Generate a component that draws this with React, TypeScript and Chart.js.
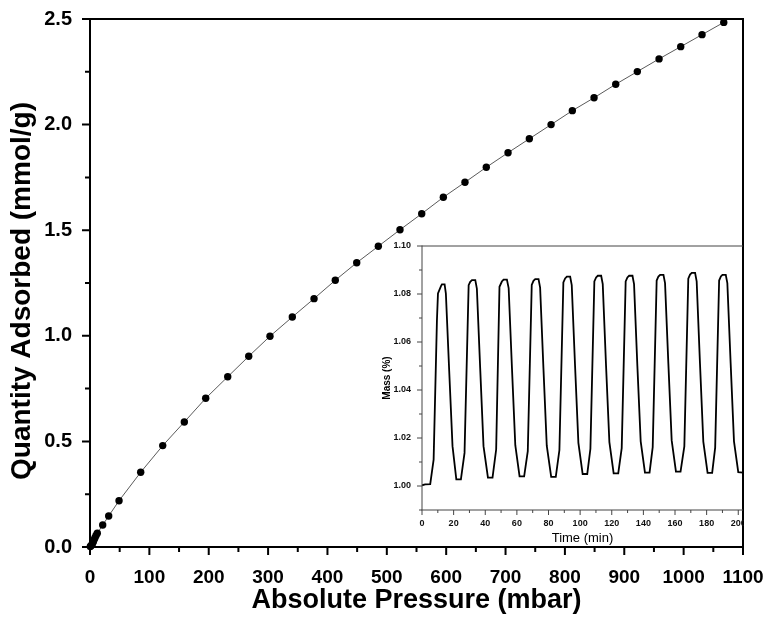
import React, { useEffect, useRef } from 'react';
import { Chart, registerables } from 'chart.js';

Chart.register(...registerables);

const FONT = "Arial, 'Liberation Sans', Helvetica, sans-serif";

// Main isotherm: absolute pressure (mbar) vs quantity adsorbed (mmol/g)
const pressure = [
  0.5, 1.5, 2.9, 4.2, 5.6, 7.0, 8.4, 10.2, 12.3, 21.4, 31.5, 48.9, 85.4, 122.5, 158.9,
  194.9, 232.0, 267.4, 303.2, 340.8, 377.4, 413.2, 449.3, 485.7, 522.2, 558.8, 595.2,
  631.7, 667.6, 704.2, 740.1, 776.7, 812.5, 849.1, 885.6, 922.0, 958.6, 995.1, 1031.0, 1067.6,
];
const quantity = [
  0.002, 0.006, 0.009, 0.017, 0.025, 0.035, 0.044, 0.055, 0.065, 0.104, 0.147, 0.219, 0.354, 0.48, 0.592,
  0.704, 0.806, 0.903, 0.998, 1.089, 1.176, 1.263, 1.346, 1.424, 1.502, 1.578, 1.656,
  1.727, 1.798, 1.867, 1.933, 2.0, 2.066, 2.127, 2.191, 2.251, 2.311, 2.369, 2.426, 2.484,
];
const pressureTicks = [0, 100, 200, 300, 400, 500, 600, 700, 800, 900, 1000, 1100];
const quantityTicks = [0, 0.5, 1.0, 1.5, 2.0, 2.5];
const yTitle = 'Quantity Adsorbed (mmol/g)';

// Inset: cycling test, time (min) vs mass (%)
const time = [
  0, 2.0, 5.2,
  7.35, 9.45, 10.1, 12.0, 12.6, 14.3, 15.1, 17.2, 19.3, 21.7, 24.6,
  26.9, 29.5, 30.5, 31.6, 33.7, 34.7, 36.8, 38.9, 41.7, 44.6,
  46.9, 49.0, 50.5, 51.6, 53.7, 54.8, 56.9, 59.0, 61.7, 64.6,
  66.9, 69.4, 70.5, 71.6, 73.7, 74.7, 76.8, 78.9, 81.7, 84.6,
  86.9, 89.4, 90.5, 91.6, 93.7, 94.7, 96.8, 98.9, 101.6, 104.5,
  106.5, 109.0, 110.1, 111.2, 113.3, 114.3, 116.4, 118.5, 121.2, 124.1,
  126.3, 128.8, 129.9, 131.0, 133.1, 134.1, 136.2, 138.3, 141.0, 143.9,
  145.9, 148.4, 149.5, 150.6, 152.7, 153.7, 155.8, 157.9, 160.6, 163.5,
  165.9, 168.4, 169.5, 170.6, 172.7, 173.7, 175.8, 177.9, 180.6, 183.5,
  185.4, 187.9, 189.0, 190.0, 192.1, 193.1, 195.2, 197.3, 200.0, 203.0,
];
const mass = [
  1.0003, 1.0007, 1.0008,
  1.011, 1.0692, 1.0802, 1.0833, 1.084, 1.084, 1.0802, 1.048, 1.0166, 1.0028, 1.0028,
  1.0138, 1.0837, 1.0851, 1.0858, 1.0858, 1.0823, 1.049, 1.0166, 1.0035, 1.0035,
  1.0152, 1.083, 1.0852, 1.086, 1.086, 1.0825, 1.049, 1.017, 1.004, 1.004,
  1.0145, 1.0838, 1.0855, 1.0862, 1.0862, 1.0827, 1.049, 1.0168, 1.0038, 1.0038,
  1.015, 1.0848, 1.0865, 1.0872, 1.0872, 1.0837, 1.05, 1.018, 1.005, 1.005,
  1.0155, 1.0852, 1.0869, 1.0876, 1.0876, 1.0841, 1.05, 1.0183, 1.0053, 1.0053,
  1.0158, 1.0852, 1.0869, 1.0876, 1.0876, 1.0841, 1.05, 1.0186, 1.0056, 1.0056,
  1.0162, 1.0856, 1.0873, 1.088, 1.088, 1.0845, 1.051, 1.019, 1.006, 1.006,
  1.0165, 1.0864, 1.0881, 1.0888, 1.0888, 1.0853, 1.051, 1.0185, 1.0055, 1.0055,
  1.016, 1.0856, 1.0873, 1.088, 1.088, 1.0845, 1.051, 1.0186, 1.0058, 1.0056,
];
const timeTicks = [0, 20, 40, 60, 80, 100, 120, 140, 160, 180, 200];
const massTicks = [1.0, 1.02, 1.04, 1.06, 1.08, 1.1];

function midpoints(a: number[]): number[] {
  const out: number[] = [];
  for (let i = 0; i < a.length - 1; i++) out.push((a[i] + a[i + 1]) / 2);
  return out;
}

type DecorOpts = {
  xMajor: number[];
  xMinor: number[];
  yMajor: number[];
  yMinor: number[];
  majorLen: number;
  minorLen: number;
  lineWidth: number;
  color: string;
  sides: { top: boolean; right: boolean };
  yTitle?: { text: string; font: string; x: number; yOffset: number };
};

function decor(o: DecorOpts) {
  return {
    id: 'decor',
    afterDraw(chart: any) {
      const { ctx, chartArea } = chart;
      const xs = chart.scales.x;
      const ys = chart.scales.y;
      const { left, right, top, bottom } = chartArea;
      ctx.save();
      ctx.strokeStyle = o.color;
      ctx.lineWidth = o.lineWidth;
      ctx.lineCap = 'butt';
      ctx.beginPath();
      ctx.moveTo(left, top - (o.sides.top ? o.lineWidth / 2 : 0));
      ctx.lineTo(left, bottom);
      ctx.moveTo(left - o.lineWidth / 2, bottom);
      ctx.lineTo(right + (o.sides.right ? o.lineWidth / 2 : 0), bottom);
      if (o.sides.top) {
        ctx.moveTo(left, top);
        ctx.lineTo(right + (o.sides.right ? o.lineWidth / 2 : 0), top);
      }
      if (o.sides.right) {
        ctx.moveTo(right, top);
        ctx.lineTo(right, bottom);
      }
      const xt = (v: number, len: number) => {
        const p = xs.getPixelForValue(v);
        ctx.moveTo(p, bottom);
        ctx.lineTo(p, bottom + len);
      };
      const yt = (v: number, len: number) => {
        const p = ys.getPixelForValue(v);
        ctx.moveTo(left, p);
        ctx.lineTo(left - len, p);
      };
      o.xMajor.forEach((v) => xt(v, o.majorLen));
      o.xMinor.forEach((v) => xt(v, o.minorLen));
      o.yMajor.forEach((v) => yt(v, o.majorLen));
      o.yMinor.forEach((v) => yt(v, o.minorLen));
      ctx.stroke();
      if (o.yTitle) {
        ctx.translate(o.yTitle.x, (top + bottom) / 2 + o.yTitle.yOffset);
        ctx.rotate(-Math.PI / 2);
        ctx.font = o.yTitle.font;
        ctx.fillStyle = '#000';
        ctx.textAlign = 'center';
        ctx.textBaseline = 'middle';
        ctx.fillText(o.yTitle.text, 0, 0);
      }
      ctx.restore();
    },
  };
}

export default function App() {
  const mainRef = useRef<HTMLCanvasElement | null>(null);
  const insetRef = useRef<HTMLCanvasElement | null>(null);

  useEffect(() => {
    if (!mainRef.current || !insetRef.current) return;

    const noGrid = { display: false, drawTicks: false };

    const main = new Chart(mainRef.current, {
      type: 'scatter',
      data: {
        datasets: [
          {
            data: pressure.map((p, i) => ({ x: p, y: quantity[i] })),
            showLine: true,
            borderColor: '#5a5a5a',
            borderWidth: 1,
            pointRadius: 3.7,
            pointBackgroundColor: '#000',
            pointBorderWidth: 0,
            pointHoverRadius: 3.7,
            clip: false as any,
          },
        ],
      },
      options: {
        responsive: false,
        animation: false,
        events: [],
        layout: { padding: { left: 0, right: 28, top: 19, bottom: 0 } },
        plugins: { legend: { display: false }, tooltip: { enabled: false } },
        scales: {
          x: {
            type: 'linear',
            min: 0,
            max: 1100,
            grid: noGrid,
            border: { display: false },
            afterBuildTicks: (s: any) => {
              s.ticks = pressureTicks.map((v) => ({ value: v }));
            },
            afterFit: (s: any) => {
              s.height = 70;
              s.paddingLeft = 0;
              s.paddingRight = 0;
            },
            ticks: {
              autoSkip: false,
              maxRotation: 0,
              padding: 19.5,
              color: '#000',
              font: { family: FONT, size: 19, weight: 'bold' },
              callback: (v: any) => String(v),
            },
            title: {
              display: true,
              text: 'Absolute Pressure (mbar)',
              color: '#000',
              font: { family: FONT, size: 27, weight: 'bold' },
              padding: { top: 0, bottom: 0 },
            },
          },
          y: {
            type: 'linear',
            min: 0,
            max: 2.5,
            grid: noGrid,
            border: { display: false },
            afterBuildTicks: (s: any) => {
              s.ticks = quantityTicks.map((v) => ({ value: v }));
            },
            afterFit: (s: any) => {
              s.width = 90;
              s.paddingTop = 0;
              s.paddingBottom = 0;
            },
            ticks: {
              autoSkip: false,
              padding: 18,
              color: '#000',
              font: { family: FONT, size: 20, weight: 'bold' },
              callback: (v: any) => Number(v).toFixed(1),
            },
            title: { display: false },
          },
        },
      },
      plugins: [
        decor({
          xMajor: pressureTicks,
          xMinor: midpoints(pressureTicks),
          yMajor: quantityTicks,
          yMinor: midpoints(quantityTicks),
          majorLen: 8,
          minorLen: 5,
          lineWidth: 2,
          color: '#000',
          sides: { top: true, right: true },
          yTitle: { text: yTitle, font: `bold 28px ${FONT}`, x: 22, yOffset: 8 },
        }),
      ],
    } as any);

    const inset = new Chart(insetRef.current, {
      type: 'scatter',
      data: {
        datasets: [
          {
            data: time.map((t, i) => ({ x: t, y: mass[i] })),
            showLine: true,
            borderColor: '#000',
            borderWidth: 1.8,
            pointRadius: 0,
            pointHoverRadius: 0,
            tension: 0,
          },
        ],
      },
      options: {
        responsive: false,
        animation: false,
        events: [],
        layout: { padding: { left: 0, right: 1, top: 10, bottom: 0 } },
        plugins: { legend: { display: false }, tooltip: { enabled: false } },
        scales: {
          x: {
            type: 'linear',
            min: 0,
            max: 203,
            grid: noGrid,
            border: { display: false },
            afterBuildTicks: (s: any) => {
              s.ticks = timeTicks.map((v) => ({ value: v }));
            },
            afterFit: (s: any) => {
              s.height = 36;
              s.paddingLeft = 0;
              s.paddingRight = 0;
            },
            ticks: {
              autoSkip: false,
              maxRotation: 0,
              padding: 8.6,
              color: '#111',
              font: { family: FONT, size: 9, weight: 'bold' },
              callback: (v: any) => String(v),
            },
            title: {
              display: true,
              text: 'Time (min)',
              color: '#000',
              font: { family: FONT, size: 13 },
              padding: { top: 0, bottom: 0 },
            },
          },
          y: {
            type: 'linear',
            min: 0.99,
            max: 1.1,
            grid: noGrid,
            border: { display: false },
            afterBuildTicks: (s: any) => {
              s.ticks = massTicks.map((v) => ({ value: v }));
            },
            afterFit: (s: any) => {
              s.width = 47;
              s.paddingTop = 0;
              s.paddingBottom = 0;
            },
            ticks: {
              autoSkip: false,
              padding: 11,
              color: '#111',
              font: { family: FONT, size: 9, weight: 'bold' },
              callback: (v: any) => Number(v).toFixed(2),
            },
            title: {
              display: true,
              text: 'Mass (%)',
              color: '#000',
              font: { family: FONT, size: 10, weight: 'bold' },
              padding: { top: 6, bottom: 0 },
            },
          },
        },
      },
      plugins: [
        decor({
          xMajor: timeTicks,
          xMinor: midpoints(timeTicks),
          yMajor: massTicks,
          yMinor: [0.99, ...midpoints(massTicks)],
          majorLen: 5,
          minorLen: 3,
          lineWidth: 1,
          color: '#444',
          sides: { top: true, right: false },
        }),
      ],
    } as any);

    return () => {
      main.destroy();
      inset.destroy();
    };
  }, []);

  return (
    <div style={{ position: 'absolute', left: 0, top: 0, width: 771, height: 617, background: '#fff' }}>
      <canvas
        ref={mainRef}
        width={771}
        height={617}
        style={{ position: 'absolute', left: 0, top: 0, width: 771, height: 617 }}
      />
      <canvas
        ref={insetRef}
        width={369}
        height={310}
        style={{ position: 'absolute', left: 375, top: 236, width: 369, height: 310 }}
      />
    </div>
  );
}
